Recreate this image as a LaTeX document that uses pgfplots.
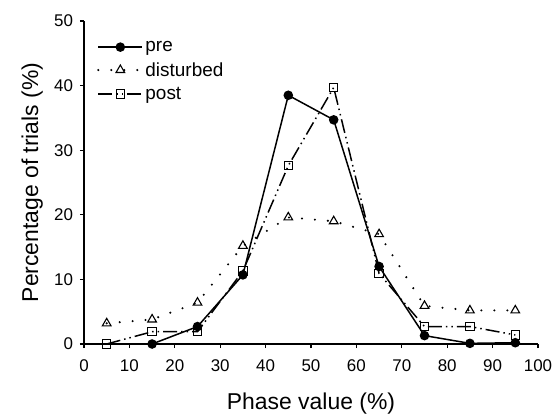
\documentclass[border=0pt]{standalone}
\usepackage{fontspec}
\setmainfont{Liberation Sans}
\usepackage{pgfplots}
\pgfplotsset{compat=1.18}

\begin{document}
\begin{tikzpicture}[x=1bp,y=1bp]
  \begin{axis}[
    at={(0,0)}, anchor=origin,
    scale only axis,
    width=454bp, height=323bp,
    axis x line=bottom,
    axis y line=left,
    axis line style={-, line width=1.3bp},
    xmin=0, xmax=100,
    ymin=0, ymax=50,
    xtick={0,10,...,100},
    ytick={0,10,...,50},
    tick align=outside,
    major tick length=4bp,
    tick style={line width=1.2bp, black},
    /pgf/number format/assume math mode=true,
    every tick label/.append style={font=\fontsize{17}{19}\selectfont},
    xticklabel style={yshift=-8bp},
    yticklabel style={xshift=-3.5bp},
    xlabel={Phase value (\%)},
    ylabel={Percentage of trials (\%)},
    label style={font=\fontsize{23}{26}\selectfont},
    xlabel style={at={(axis description cs:0.5,-0.2043)}, anchor=base},
    ylabel style={at={(axis description cs:-0.1013,0.5)}, anchor=base},
    legend style={draw=none, fill=none, inner sep=0pt,
      at={(axis description cs:0.0286,0.944)}, anchor=north west,
      font=\fontsize{19}{22}\selectfont, row sep=5.5bp},
    legend cell align=left,
    legend image code/.code={%
      \draw[mark repeat=2, mark phase=2, #1]
        plot coordinates {(0bp,0bp) (22bp,0bp) (44bp,0bp)};},
    clip=false,
  ]
    % pre
    \addplot[black, line width=1.5bp, mark=*, mark size=4bp,
      mark options={solid, fill=black}]
      coordinates {
        (15,0.0) (25,2.7) (35,10.7) (45,38.5) (55,34.7)
        (65,12.0) (75,1.3) (85,0.1) (95,0.2)
      };
    \addlegendentry{pre}
    % disturbed
    \addplot[black, line width=2.3bp, line cap=round, dash pattern=on 0bp off 13bp,
      mark=triangle, mark size=5bp,
      mark options={solid, fill=white, line width=1.1bp, line cap=butt}]
      coordinates {
        (5,3.2) (15,3.8) (25,6.4) (35,15.2) (45,19.6) (55,19.0)
        (65,17.0) (75,5.9) (85,5.2) (95,5.2)
      };
    \addlegendentry{disturbed}
    % post
    \addplot[black, line width=1.5bp,
      dash pattern=on 14bp off 4bp on 1.5bp off 4bp on 1.5bp off 4bp,
      mark=square, mark size=4.2bp,
      mark options={solid, fill=white, line width=1.1bp}]
      coordinates {
        (5,0.0) (15,1.9) (25,1.9) (35,11.3) (45,27.6) (55,39.7)
        (65,10.9) (75,2.7) (85,2.7) (95,1.4)
      };
    \addlegendentry{post}
  \end{axis}
  \pgfresetboundingbox
  \path (-84bp,-70bp) rectangle (476bp,344bp);
\end{tikzpicture}
\end{document}
